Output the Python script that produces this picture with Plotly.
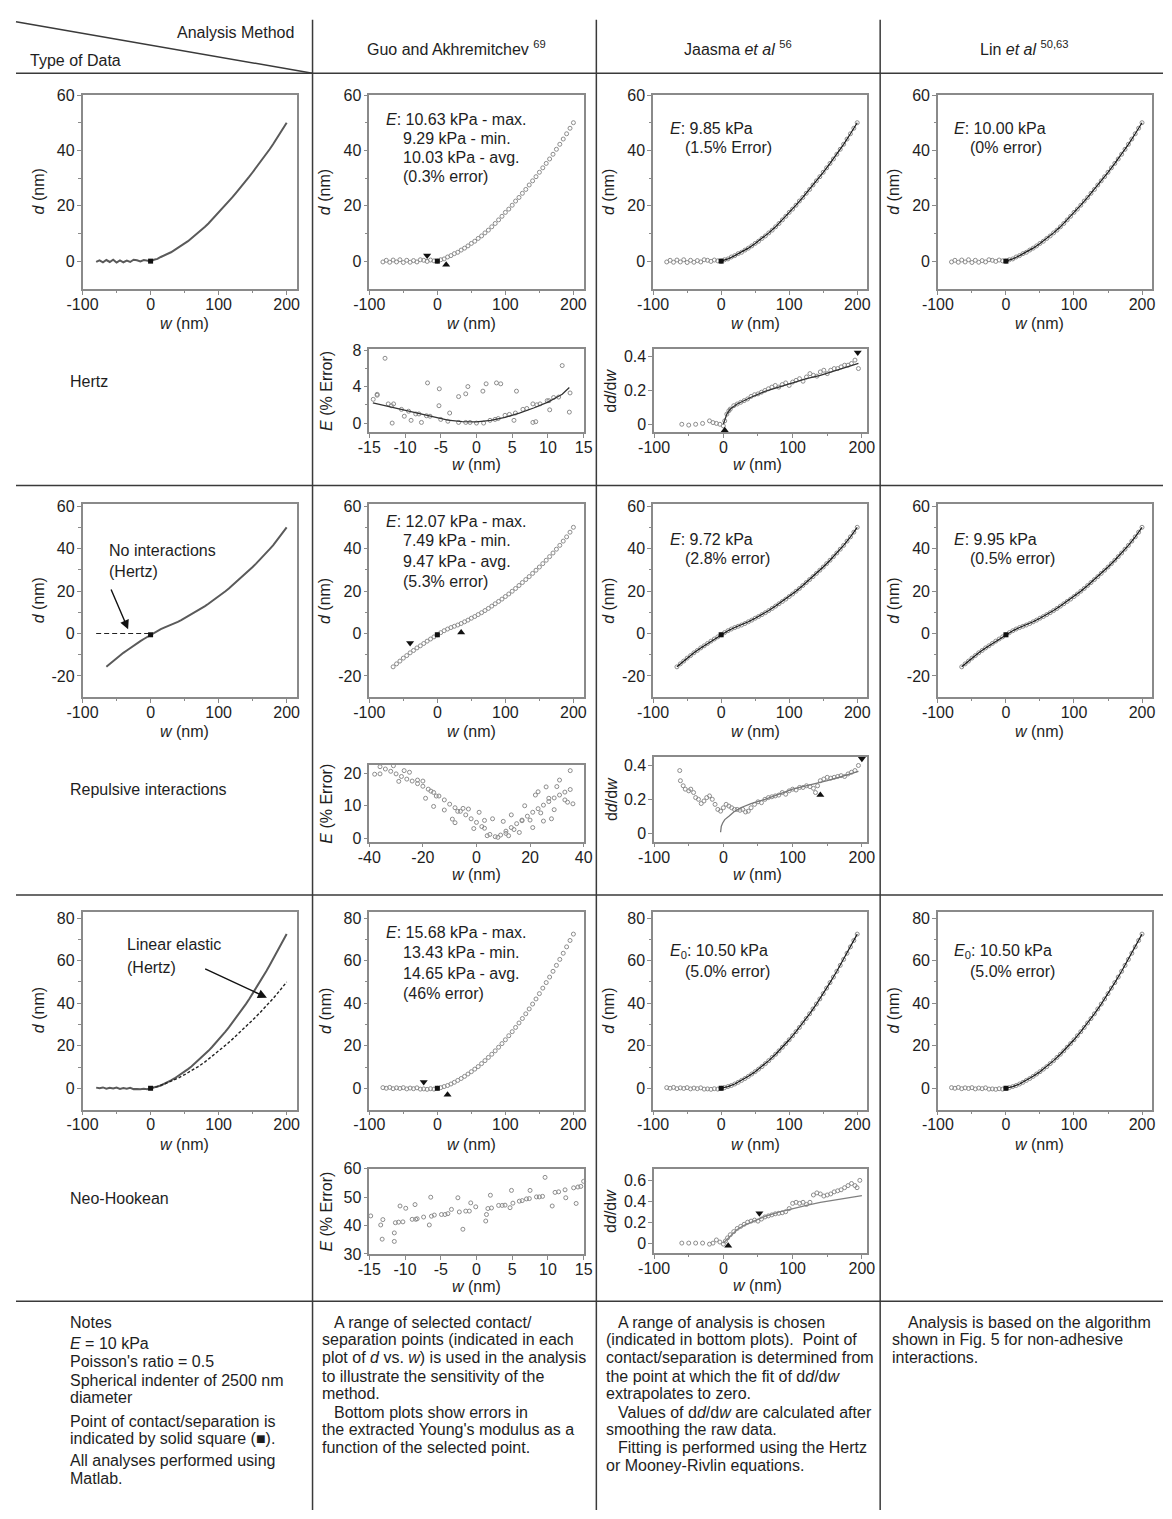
import plotly.graph_objects as go

PAGE_W, PAGE_H = 1172, 1519
OFF = 0
W, H = PAGE_W - 2 * OFF, PAGE_H - 2 * OFF
FONT = "Liberation Sans, Arial, Helvetica, sans-serif"
TXT = "#1e1e1e"
FRAME = "#8a8a8a"
RAW = "#5a5a5a"
MK = "#8c8c8c"
FIT = "#1a1a1a"
TS = 16      # tick / title font size
NS = 16      # notes font size

# ---------------- data: d vs w curves ----------------
w_hertz = [-80, -75, -70, -65, -60, -55, -50, -45, -40, -35, -30, -25, -20, -15, -10, -5,
           0, 5, 10, 15, 20, 25, 30, 35, 40, 45, 50, 55, 60, 65, 70, 75, 80, 85, 90, 95,
           100, 105, 110, 115, 120, 125, 130, 135, 140, 145, 150, 155, 160, 165, 170, 175,
           180, 185, 190, 195, 200]
d_hertz = [-0.3, 0.3, -0.4, 0.4, -0.3, 0.5, -0.5, 0.3, -0.4, 0.2, -0.3, 0.5, 0.3, -0.1, 0.4, 0.1,
           0.0, 0.5, 0.8, 1.5, 2.0, 2.7, 3.2, 4.0, 4.7, 5.5, 6.4, 7.2, 8.2, 9.1, 10.2, 11.2,
           12.4, 13.6, 14.9, 16.2, 17.6, 18.8, 20.2, 21.7, 23.0, 24.5, 25.9, 27.5, 29.0, 30.5,
           32.1, 33.7, 35.3, 36.9, 38.6, 40.4, 42.2, 44.1, 46.0, 48.0, 50.0]

w_rep = [-65, -60, -55, -50, -45, -40, -35, -30, -25, -20, -15, -10, -5,
         0, 5, 10, 15, 20, 25, 30, 35, 40, 45, 50, 55, 60, 65, 70, 75, 80, 85, 90, 95,
         100, 105, 110, 115, 120, 125, 130, 135, 140, 145, 150, 155, 160, 165, 170, 175,
         180, 185, 190, 195, 200]
d_rep = [-15.7, -14.3, -13.0, -11.6, -10.4, -9.1, -8.0, -6.8, -5.8, -4.7, -3.6, -2.6, -1.6,
         -0.6, 0.4, 1.3, 2.1, 2.8, 3.4, 4.0, 4.7, 5.5, 6.3, 7.2, 8.0, 8.9, 9.8, 10.8, 11.8,
         12.9, 14.0, 15.1, 16.2, 17.4, 18.6, 19.9, 21.2, 22.6, 24.0, 25.4, 26.8, 28.3, 29.8,
         31.3, 32.9, 34.5, 36.2, 37.9, 39.7, 41.5, 43.5, 45.5, 47.7, 50.0]

w_neo = [-80, -75, -70, -65, -60, -55, -50, -45, -40, -35, -30, -25, -20, -15, -10, -5,
         0, 5, 10, 15, 20, 25, 30, 35, 40, 45, 50, 55, 60, 65, 70, 75, 80, 85, 90, 95,
         100, 105, 110, 115, 120, 125, 130, 135, 140, 145, 150, 155, 160, 165, 170, 175,
         180, 185, 190, 195, 200]
d_neo = [0.3, 0.0, 0.4, -0.2, 0.2, -0.1, 0.3, -0.3, 0.1, -0.2, 0.2, -0.4, -0.3, -0.5, -0.2, -0.4,
         0.0, 0.3, 0.8, 1.3, 2.0, 2.8, 3.7, 4.6, 5.6, 6.7, 7.8, 9.0, 10.2, 11.6, 13.0, 14.5,
         16.0, 17.6, 19.3, 21.0, 22.8, 24.7, 26.6, 28.6, 30.7, 32.8, 35.0, 37.3, 39.6, 42.0,
         44.5, 47.1, 49.7, 52.3, 55.0, 57.8, 60.6, 63.5, 66.5, 69.5, 72.5]

# fitted curves (Jaasma / Lin)
fit_w_hertz = [0, 10, 20, 30, 40, 50, 60, 70, 80, 90, 100, 110, 120, 130, 140, 150, 160, 170, 180, 190, 200]
fit_d_hertz = [0.0, 0.8, 2.0, 3.2, 4.7, 6.4, 8.2, 10.2, 12.4, 14.9, 17.6, 20.2, 23.0, 25.9, 29.0, 32.1,
               35.3, 38.6, 42.2, 46.0, 50.0]
fit_w_rep = [-65, -60, -50, -40, -30, -20, -10, 0, 10, 20, 30, 40, 50, 60, 70, 80, 90, 100, 110, 120,
             130, 140, 150, 160, 170, 180, 190, 200]
fit_d_rep = [-15.7, -14.3, -11.6, -9.1, -6.8, -4.7, -2.6, -0.6, 1.3, 2.8, 4.0, 5.5, 7.2, 8.9, 10.8, 12.9,
             15.1, 17.4, 19.9, 22.6, 25.4, 28.3, 31.3, 34.5, 37.9, 41.5, 45.5, 50.0]
fit_w_neo = [0, 10, 20, 30, 40, 50, 60, 70, 80, 90, 100, 110, 120, 130, 140, 150, 160, 170, 180, 190, 200]
fit_d_neo = [0.0, 0.8, 2.0, 3.7, 5.6, 7.8, 10.2, 13.0, 16.0, 19.3, 22.8, 26.6, 30.7, 35.0, 39.6, 44.5,
             49.7, 55.0, 60.6, 66.5, 72.5]

# no-interaction reference line (repulsive panel)
noint_w = [-80, 0]
noint_d = [0, 0]

# contact point (solid square) per row
contact_w = [0, 0, 0]
contact_d = [0.0, -0.6, 0.0]

# Guo & Akhremitchev range of selected points (down / up triangles) per row
guo_down_w = [-15, -40, -20]
guo_down_d = [2.0, -4.5, 3.0]
guo_up_w = [13, 35, 15]
guo_up_d = [-1.3, 0.5, -3.0]

# ---------------- data: Guo error plots ----------------
e1_w = [-14.45, -13.9, -13.9, -12.8, -12.35, -11.9, -11.6, -11.8, -10.5, -10.1, -9.5, -9.15, -8.5, -8.05,
        -7.7, -7.0, -6.85, -6.5, -5.25, -5.2, -5.0, -4.0, -3.75, -2.5, -2.5, -1.5, -1.5, -1.2, -0.9, 0.0,
        0.9, 1.0, 1.35, 1.9, 2.6, 2.8, 3.05, 3.4, 4.0, 4.6, 5.25, 5.45, 5.6, 6.5, 7.05, 7.9, 7.9, 8.3,
        8.45, 8.9, 9.9, 10.15, 10.25, 10.8, 11.5, 12.0, 13.1, 13.0]
e1_err = [2.6, 3.15, 3.05, 7.1, 2.1, 1.9, 2.1, 0.0, 1.5, 0.75, 1.3, 0.3, 1.0, 1.0,
          0.07, 0.8, 4.4, 0.75, 1.9, 3.75, 0.4, 0.2, 1.1, 2.9, 0.07, 3.2, 0.07, 4.0, 0.07, 0.0,
          3.5, 0.0, 4.3, 0.3, 0.4, 4.4, 0.5, 4.3, 0.85, 0.95, 0.3, 1.1, 3.5, 1.5, 1.6, 2.1, 0.07, 0.15,
          2.0, 2.1, 2.45, 2.45, 1.45, 2.8, 2.85, 6.3, 3.3, 1.2]
e1_fit_w = [-14.5, -12, -10, -8, -6, -4, -2, 0, 2, 4, 6, 8, 10, 12, 13]
e1_fit = [2.2, 1.75, 1.35, 0.98, 0.62, 0.33, 0.15, 0.14, 0.3, 0.62, 1.1, 1.65, 2.3, 3.15, 3.9]

e2_w_line = [-38, -36, -34, -32, -30, -28, -26, -24, -22, -20, -18, -16, -14, -12, -10, -8, -6, -4, -2,
             0, 2, 3, 5, 7, 9, 11, 13, 15, 17, 19, 21, 23, 25, 27, 29, 31, 33, 35]
e2_line = [22.5, 22.0, 21.3, 20.6, 19.8, 19.0, 18.2, 17.6, 16.8, 16.0, 15.1, 14.1, 13.0, 11.8, 10.5, 9.4,
           8.3, 7.2, 6.0, 4.9, 3.6, 3.1, 1.2, 0.5, 1.0, 2.2, 3.3, 4.5, 5.6, 6.8, 8.0, 9.1, 10.2, 11.3,
           12.4, 13.3, 14.2, 15.0]
e2_w_scatter = [-38, -36, -33, -31, -29, -27, -25, -22, -20, -19, -17, -16, -15, -12, -9, -8, -7, -5, -3,
                -1, 1, 3, 4, 6, 8, 10, 11, 12, 13, 14, 16, 17, 18, 20, 21, 22, 23, 24, 25, 26, 27, 28,
                29, 30, 31, 33, 34, 35, 36]
e2_scatter = [19.7, 19.8, 22.8, 22.3, 17.5, 20.8, 20.3, 17.9, 17.6, 12.3, 14.5, 9.8, 13.0, 8.7, 5.9, 4.8,
              8.3, 9.2, 9.0, 3.0, 8.0, 5.5, 0.8, 6.0, 0.3, 5.2, 1.5, 0.8, 7.2, 2.7, 1.8, 5.4, 10.0, 5.6,
              3.3, 13.3, 14.3, 7.8, 5.3, 15.8, 12.3, 6.0, 8.8, 15.9, 17.9, 11.8, 11.1, 20.8, 10.6]

e3_w = [-14.8, -13.4, -13.2, -13.1, -11.5, -11.5, -11.35, -10.9, -10.7, -10.3, -9.9, -9.0, -8.5, -8.6,
        -8.3, -7.4, -6.6, -6.3, -6.4, -5.9, -4.9, -4.4, -4.0, -3.5, -2.6, -2.4, -1.9, -1.5, -1.0, -0.8,
        -0.1, 1.3, 1.4, 1.6, 1.95, 2.1, 3.1, 3.6, 4.0, 4.7, 4.9, 5.1, 6.0, 6.4, 7.0, 7.4, 7.5, 8.4, 8.8,
        9.25, 9.6, 10.6, 11.0, 11.5, 12.4, 12.5, 13.6, 13.95, 14.2, 14.6, 15.0]
e3_err = [43.4, 40.2, 35.2, 42.1, 37.4, 34.4, 41.0, 41.2, 46.9, 41.3, 46.1, 42.2, 42.2, 47.4,
          42.4, 43.0, 40.2, 43.3, 50.0, 43.7, 43.9, 43.9, 44.2, 45.7, 49.8, 44.8, 38.7, 45.1, 45.1, 48.0,
          46.6, 41.6, 43.9, 46.0, 50.7, 46.2, 47.1, 47.1, 47.2, 46.3, 52.4, 47.9, 48.6, 48.8, 49.4, 49.5,
          52.4, 50.1, 50.1, 50.3, 57.0, 46.9, 51.7, 51.9, 52.6, 49.8, 53.3, 47.8, 53.6, 53.8, 55.6]

# ---------------- data: Jaasma dd/dw plots ----------------
s1_w = [-60, -50, -40, -30, -20, -15, -10, -5, 0, 2, 5, 8, 10, 15, 20, 25, 30, 35, 40, 45,
        50, 55, 60, 65, 70, 75, 80, 85, 90, 95, 100, 105, 110, 115, 120, 125, 130, 135, 140, 145,
        150, 155, 160, 165, 170, 175, 180, 185, 190, 195]
s1 = [0.0, -0.005, 0.0, 0.005, 0.02, 0.01, 0.005, 0.0, -0.01, 0.02, 0.06, 0.08, 0.09, 0.11, 0.12, 0.13,
      0.14, 0.15, 0.165, 0.175, 0.18, 0.19, 0.2, 0.21, 0.22, 0.23, 0.22, 0.235, 0.245, 0.23, 0.25, 0.26,
      0.27, 0.255, 0.28, 0.3, 0.29, 0.285, 0.31, 0.32, 0.3, 0.32, 0.33, 0.33, 0.34, 0.35, 0.35, 0.36,
      0.38, 0.33]
s1_fit_w = [0, 5, 10, 20, 40, 60, 80, 100, 120, 140, 160, 180, 195]
s1_fit = [0.0, 0.06, 0.09, 0.12, 0.16, 0.195, 0.22, 0.245, 0.27, 0.29, 0.315, 0.34, 0.36]

s2_w = [-63, -62, -58, -55, -50, -47, -43, -40, -36, -32, -28, -24, -20, -16, -12, -8, -4, 0, 4, 8,
        12, 16, 20, 24, 28, 32, 36, 40, 45, 50, 55, 60, 65, 70, 75, 80, 85, 90, 95, 100,
        105, 110, 115, 120, 125, 130, 133, 136, 140, 145, 150, 155, 160, 165, 170, 175, 180, 185, 190, 195]
s2 = [0.37, 0.31, 0.28, 0.26, 0.25, 0.26, 0.24, 0.21, 0.2, 0.175, 0.19, 0.21, 0.22, 0.2, 0.17, 0.14,
      0.13, 0.15, 0.17, 0.16, 0.15, 0.14, 0.14, 0.135, 0.14, 0.125, 0.13, 0.15, 0.17, 0.185, 0.18, 0.2,
      0.21, 0.215, 0.22, 0.225, 0.24, 0.23, 0.25, 0.26, 0.255, 0.27, 0.27, 0.28, 0.275, 0.265, 0.24,
      0.28, 0.31, 0.32, 0.33, 0.325, 0.33, 0.335, 0.34, 0.335, 0.35, 0.36, 0.37, 0.4]
s2_fit_w = [-4, -3, -1, 2, 8, 15, 25, 40, 60, 80, 100, 125, 150, 175, 195]
s2_fit = [0.005, 0.04, 0.06, 0.08, 0.1, 0.125, 0.15, 0.175, 0.2, 0.23, 0.26, 0.285, 0.31, 0.34, 0.365]

s3_w = [-60, -50, -40, -30, -20, -15, -10, -5, 0, 3, 6, 10, 15, 20, 25, 30, 35, 40, 45, 50,
        55, 60, 65, 70, 75, 80, 85, 90, 95, 100, 105, 110, 115, 120, 125, 130, 135, 140, 145, 150,
        155, 160, 165, 170, 175, 180, 185, 190, 193, 197]
s3 = [0.0, 0.0, 0.0, 0.0, -0.01, 0.0, 0.03, 0.01, -0.01, 0.02, 0.05, 0.08, 0.11, 0.14, 0.16, 0.18, 0.2,
      0.21, 0.22, 0.21, 0.23, 0.25, 0.26, 0.27, 0.28, 0.285, 0.29, 0.3, 0.33, 0.38, 0.39, 0.38, 0.39,
      0.37, 0.39, 0.46, 0.48, 0.47, 0.45, 0.46, 0.47, 0.49, 0.5, 0.51, 0.53, 0.55, 0.57, 0.55, 0.53, 0.6]
s3_fit_w = [0, 10, 20, 30, 40, 50, 60, 80, 100, 120, 140, 160, 180, 200]
s3_fit = [0.0, 0.07, 0.13, 0.17, 0.2, 0.23, 0.255, 0.295, 0.33, 0.36, 0.39, 0.41, 0.435, 0.455]

# Jaasma analysis range markers (up / down triangles) per row
jr_up_w = [2, 140, 7]
jr_up_v = [-0.035, 0.225, -0.025]
jr_down_w = [194, 200, 52]
jr_down_v = [0.425, 0.44, 0.285]

# ---------------- tick labels ----------------
main_xt = [-100, 0, 100, 200]
main_xtt = ["-100", "0", "100", "200"]
main_xminor = [-50, 50, 150]
main_yt = [[0, 20, 40, 60], [-20, 0, 20, 40, 60], [0, 20, 40, 60, 80]]
main_ytt = [["0", "20", "40", "60"], ["-20", "0", "20", "40", "60"], ["0", "20", "40", "60", "80"]]
main_yminor = [[10, 30, 50], [-10, 10, 30, 50], [10, 30, 50, 70]]
main_yr = [[-10, 60], [-30, 60.8], [-10, 83]]

# ---------------- layout geometry (page pixels) ----------------
COLX = [(68, 287), (361, 580), (651, 870), (942, 1161)]
MAINY = [(88, 284), (502, 697), (914, 1114)]
BOT2Y = [(345, 429), (766, 843), (1174, 1260)]
BOT3Y = [(345, 429), (757, 843), (1174, 1259)]


def PX(x):
    return (x - OFF) / W


def PY(y):
    return 1 - (y - OFF) / H


fig = go.Figure()
annotations = []
shapes = []
axn = [0]


def make_axes(bx, by, xr, yr, xt, xtt, yt, ytt, xminor=None, yminor=None):
    axn[0] += 1
    n = axn[0]
    s = '' if n == 1 else str(n)
    base = dict(showgrid=False, zeroline=False, showline=True, mirror=True, linecolor=FRAME,
                linewidth=1.5, ticks='outside', ticklen=4, tickwidth=1.2, tickcolor=FRAME,
                tickfont=dict(family=FONT, size=TS, color=TXT), fixedrange=True, tickmode='array')
    xa = dict(base, domain=[PX(bx[0]), PX(bx[1])], range=xr, anchor='y' + s, tickvals=xt, ticktext=xtt,
              ticklabelstandoff=-4)
    ya = dict(base, domain=[PY(by[1]), PY(by[0])], range=yr, anchor='x' + s, tickvals=yt, ticktext=ytt,
              ticklabelstandoff=-1)
    if xminor:
        xa['minor'] = dict(tickmode='array', tickvals=xminor, ticks='outside', ticklen=2.5,
                           tickcolor=FRAME, tickwidth=1)
    if yminor:
        ya['minor'] = dict(tickmode='array', tickvals=yminor, ticks='outside', ticklen=2.5,
                           tickcolor=FRAME, tickwidth=1)
    fig.update_layout({'xaxis' + s: xa, 'yaxis' + s: ya})
    return ('x' + s, 'y' + s)


def line(ax, x, y, color=FIT, width=1.3, dash='solid'):
    fig.add_trace(go.Scatter(x=x, y=y, xaxis=ax[0], yaxis=ax[1], mode='lines',
                             line=dict(color=color, width=width, dash=dash),
                             showlegend=False, hoverinfo='skip'))


def pts(ax, x, y, symbol='circle-open', color=MK, size=4, lw=1):
    fig.add_trace(go.Scatter(x=x, y=y, xaxis=ax[0], yaxis=ax[1], mode='markers',
                             marker=dict(symbol=symbol, size=size, color=color,
                                         line=dict(color=color, width=lw)),
                             showlegend=False, hoverinfo='skip', cliponaxis=False))


def txt(x, y, s, size=TS, xanchor='left', yanchor='middle', angle=0):
    annotations.append(dict(x=PX(x), y=PY(y), xref='paper', yref='paper', text=s, showarrow=False,
                            xanchor=xanchor, yanchor=yanchor, textangle=angle,
                            font=dict(family=FONT, size=size, color=TXT)))


def titles(bx, by, xr, xc, xt, yt, xoff, yoff=45):
    # x title centred on data value xc
    px = bx[0] + (xc - xr[0]) / (xr[1] - xr[0]) * (bx[1] - bx[0])
    txt(px, by[1] + xoff, xt, xanchor='center')
    txt(bx[0] - yoff, (by[0] + by[1]) / 2, yt, xanchor='center', angle=-90)


def arrow(ax, hx, hy, tx, ty):
    annotations.append(dict(x=hx, y=hy, xref=ax[0], yref=ax[1], ax=tx, ay=ty, axref=ax[0], ayref=ax[1],
                            text='', showarrow=True, arrowhead=2, arrowsize=1.3, arrowwidth=1.4,
                            arrowcolor='#111111'))


rows = [(w_hertz, d_hertz, fit_w_hertz, fit_d_hertz),
        (w_rep, d_rep, fit_w_rep, fit_d_rep),
        (w_neo, d_neo, fit_w_neo, fit_d_neo)]

XW = '<i>w</i> (nm)'
YD = '<i>d</i> (nm)'
MXR = [-100, 215]

for r, (wx, dy, fw, fd) in enumerate(rows):
    by = MAINY[r]
    for c in range(4):
        bx = COLX[c]
        ax = make_axes(bx, by, MXR, main_yr[r], main_xt, main_xtt, main_yt[r], main_ytt[r],
                       main_xminor, main_yminor[r])
        titles(bx, by, MXR, 50, XW, YD, xoff=35)
        if c == 0:
            line(ax, wx, dy, color=RAW, width=2)
            if r == 1:
                line(ax, noint_w, noint_d, color='#222222', width=1.2, dash='5px,3px')
            if r == 2:
                line(ax, fit_w_hertz, fit_d_hertz, color='#222222', width=1.4, dash='3px,2px')
        else:
            pts(ax, wx, dy)
            if c >= 2:
                line(ax, fw, fd, color=FIT, width=1.2)
            if c == 1:
                pts(ax, [guo_down_w[r]], [guo_down_d[r]], symbol='triangle-down', color='#111', size=7, lw=0)
                pts(ax, [guo_up_w[r]], [guo_up_d[r]], symbol='triangle-up', color='#111', size=7, lw=0)
        pts(ax, [contact_w[r]], [contact_d[r]], symbol='square', color='#111', size=5, lw=0)
        if c == 0 and r == 1:
            arrow(ax, -33, 2.0, -59, 21.4)
        if c == 0 and r == 2:
            arrow(ax, 171, 42.6, 78, 56.5)

# ---- Guo error plots ----
EXR = [-15, 15]
ax = make_axes(COLX[1], BOT2Y[0], EXR, [-1, 8.1], [-15, -10, -5, 0, 5, 10, 15],
               ["-15", "-10", "-5", "0", "5", "10", "15"], [0, 4, 8], ["0", "4", "8"], None, [2, 6])
pts(ax, e1_w, e1_err)
line(ax, e1_fit_w, e1_fit, color='#333333', width=1.3)
titles(COLX[1], BOT2Y[0], EXR, 0, XW, '<i>E</i> (% Error)', xoff=33, yoff=44)

ax = make_axes(COLX[1], BOT2Y[1], [-40, 40], [-1, 22.4], [-40, -20, 0, 20, 40],
               ["-40", "-20", "0", "20", "40"], [0, 10, 20], ["0", "10", "20"])
pts(ax, e2_w_line, e2_line)
pts(ax, e2_w_scatter, e2_scatter)
titles(COLX[1], BOT2Y[1], [-40, 40], 0, XW, '<i>E</i> (% Error)', xoff=33, yoff=44)

ax = make_axes(COLX[1], BOT2Y[2], EXR, [30, 60], [-15, -10, -5, 0, 5, 10, 15],
               ["-15", "-10", "-5", "0", "5", "10", "15"], [30, 40, 50, 60], ["30", "40", "50", "60"])
pts(ax, e3_w, e3_err)
titles(COLX[1], BOT2Y[2], EXR, 0, XW, '<i>E</i> (% Error)', xoff=33, yoff=44)

# ---- Jaasma dd/dw plots ----
DD = 'd<i>d</i>/d<i>w</i>'
SXR = [-100, 208]
bot3 = [(s1_w, s1, s1_fit_w, s1_fit, [-0.047, 0.445], [0, 0.2, 0.4], ["0", "0.2", "0.4"], '#333333'),
        (s2_w, s2, s2_fit_w, s2_fit, [-0.05, 0.453], [0, 0.2, 0.4], ["0", "0.2", "0.4"], '#777777'),
        (s3_w, s3, s3_fit_w, s3_fit, [-0.094, 0.71], [0, 0.2, 0.4, 0.6], ["0", "0.2", "0.4", "0.6"], '#808080')]
for r, (sw, sv, fw, fv, yr, yt, ytt, fc) in enumerate(bot3):
    bx = (652, 870)
    ax = make_axes(bx, BOT3Y[r], SXR, yr, main_xt, main_xtt, yt, ytt, main_xminor, None)
    pts(ax, sw, sv)
    line(ax, fw, fv, color=fc, width=1.3)
    pts(ax, [jr_up_w[r]], [jr_up_v[r]], symbol='triangle-up', color='#111', size=7, lw=0)
    pts(ax, [jr_down_w[r]], [jr_down_v[r]], symbol='triangle-down', color='#111', size=7, lw=0)
    titles(bx, BOT3Y[r], SXR, 50, XW, DD, xoff=33, yoff=44)

# ---------------- in-plot texts ----------------
guo_txt = [["<i>E</i>: 10.63 kPa - max.", "9.29 kPa - min.", "10.03 kPa - avg.", "(0.3% error)"],
           ["<i>E</i>: 12.07 kPa - max.", "7.49 kPa - min.", "9.47 kPa - avg.", "(5.3% error)"],
           ["<i>E</i>: 15.68 kPa - max.", "13.43 kPa - min.", "14.65 kPa - avg.", "(46% error)"]]
guo_y = [[113, 132, 151, 170], [519, 539, 560, 580], [935, 955, 976, 997]]
for r in range(3):
    for i, s in enumerate(guo_txt[r]):
        txt(376 if i == 0 else 393, guo_y[r][i], s)

jaasma_txt = [["<i>E</i>: 9.85 kPa", "(1.5% Error)"], ["<i>E</i>: 9.72 kPa", "(2.8% error)"],
              ["<i>E</i><sub>0</sub>: 10.50 kPa", "(5.0% error)"]]
lin_txt = [["<i>E</i>: 10.00 kPa", "(0% error)"], ["<i>E</i>: 9.95 kPa", "(0.5% error)"],
           ["<i>E</i><sub>0</sub>: 10.50 kPa", "(5.0% error)"]]
jl_y = [[122, 141], [538, 557], [954, 974]]
for r in range(3):
    txt(666, jl_y[r][0], jaasma_txt[r][0])
    txt(682, jl_y[r][1], jaasma_txt[r][1])
    txt(956, jl_y[r][0], lin_txt[r][0])
    txt(973, jl_y[r][1], lin_txt[r][1])

txt(93, 549, "No interactions")
txt(93, 570, "(Hertz)")
txt(111, 947, "Linear elastic")
txt(111, 970, "(Hertz)")

# ---------------- header / row labels ----------------
txt(286, 25, "Analysis Method", xanchor='right')
txt(12, 53, "Type of Data")
txt(450, 40, "Guo and Akhremitchev <sup>69</sup>", xanchor='center')
txt(738, 40, "Jaasma <i>et al</i> <sup>56</sup>", xanchor='center')
txt(1030, 40, "Lin <i>et al</i> <sup>50,63</sup>", xanchor='center')
txt(53, 378, "Hertz")
txt(53, 790, "Repulsive interactions")
txt(53, 1204, "Neo-Hookean")

# ---------------- notes ----------------
notes1 = [(1329, "Notes"), (1351, "<i>E</i> = 10 kPa"), (1369, "Poisson's ratio = 0.5"),
          (1388, "Spherical indenter of 2500 nm"), (1405, "diameter"),
          (1429, "Point of contact/separation is"), (1447, "indicated by solid square (\u25a0)."),
          (1469, "All analyses performed using"), (1487, "Matlab.")]
for y, s in notes1:
    txt(53, y, s, size=NS)

notes2 = [(323, 1329, "A range of selected contact/"),
          (311, 1347, "separation points (indicated in each"),
          (311, 1365, "plot of <i>d</i> vs. <i>w</i>) is used in the analysis"),
          (311, 1384, "to illustrate the sensitivity of the"),
          (311, 1401, "method."),
          (323, 1420, "Bottom plots show errors in"),
          (311, 1438, "the extracted Young's modulus as a"),
          (311, 1456, "function of the selected point.")]
notes3 = [(613, 1329, "A range of analysis is chosen"),
          (601, 1347, "(indicated in bottom plots).  Point of"),
          (601, 1365, "contact/separation is determined from"),
          (601, 1384, "the point at which the fit of d<i>d</i>/d<i>w</i>"),
          (601, 1401, "extrapolates to zero."),
          (613, 1420, "Values of d<i>d</i>/d<i>w</i> are calculated after"),
          (601, 1438, "smoothing the raw data."),
          (613, 1456, "Fitting is performed using the Hertz"),
          (601, 1474, "or Mooney-Rivlin equations.")]
notes4 = [(909, 1329, "Analysis is based on the algorithm"),
          (893, 1347, "shown in Fig. 5 for non-adhesive"),
          (893, 1365, "interactions.")]
for x, y, s in notes2 + notes3 + notes4:
    txt(x, y, s, size=NS)

# ---------------- table lines ----------------
LC = '#3a3a3a'
for y in [66, 483, 897, 1308]:
    shapes.append(dict(type='line', xref='paper', yref='paper', x0=PX(0), x1=PX(PAGE_W), y0=PY(y), y1=PY(y),
                       line=dict(color=LC, width=1.5)))
for x in [303, 593, 883]:
    shapes.append(dict(type='line', xref='paper', yref='paper', x0=PX(x), x1=PX(x), y0=PY(12), y1=PY(PAGE_H),
                       line=dict(color=LC, width=1.5)))
shapes.append(dict(type='line', xref='paper', yref='paper', x0=PX(0), x1=PX(303), y0=PY(14), y1=PY(66),
                   line=dict(color=LC, width=1.5)))

fig.update_layout(width=W, height=H, margin=dict(l=0, r=0, t=0, b=0), paper_bgcolor='white',
                  plot_bgcolor='white', showlegend=False, annotations=annotations, shapes=shapes,
                  font=dict(family=FONT, size=TS, color=TXT))

fig.write_html("out.html")
